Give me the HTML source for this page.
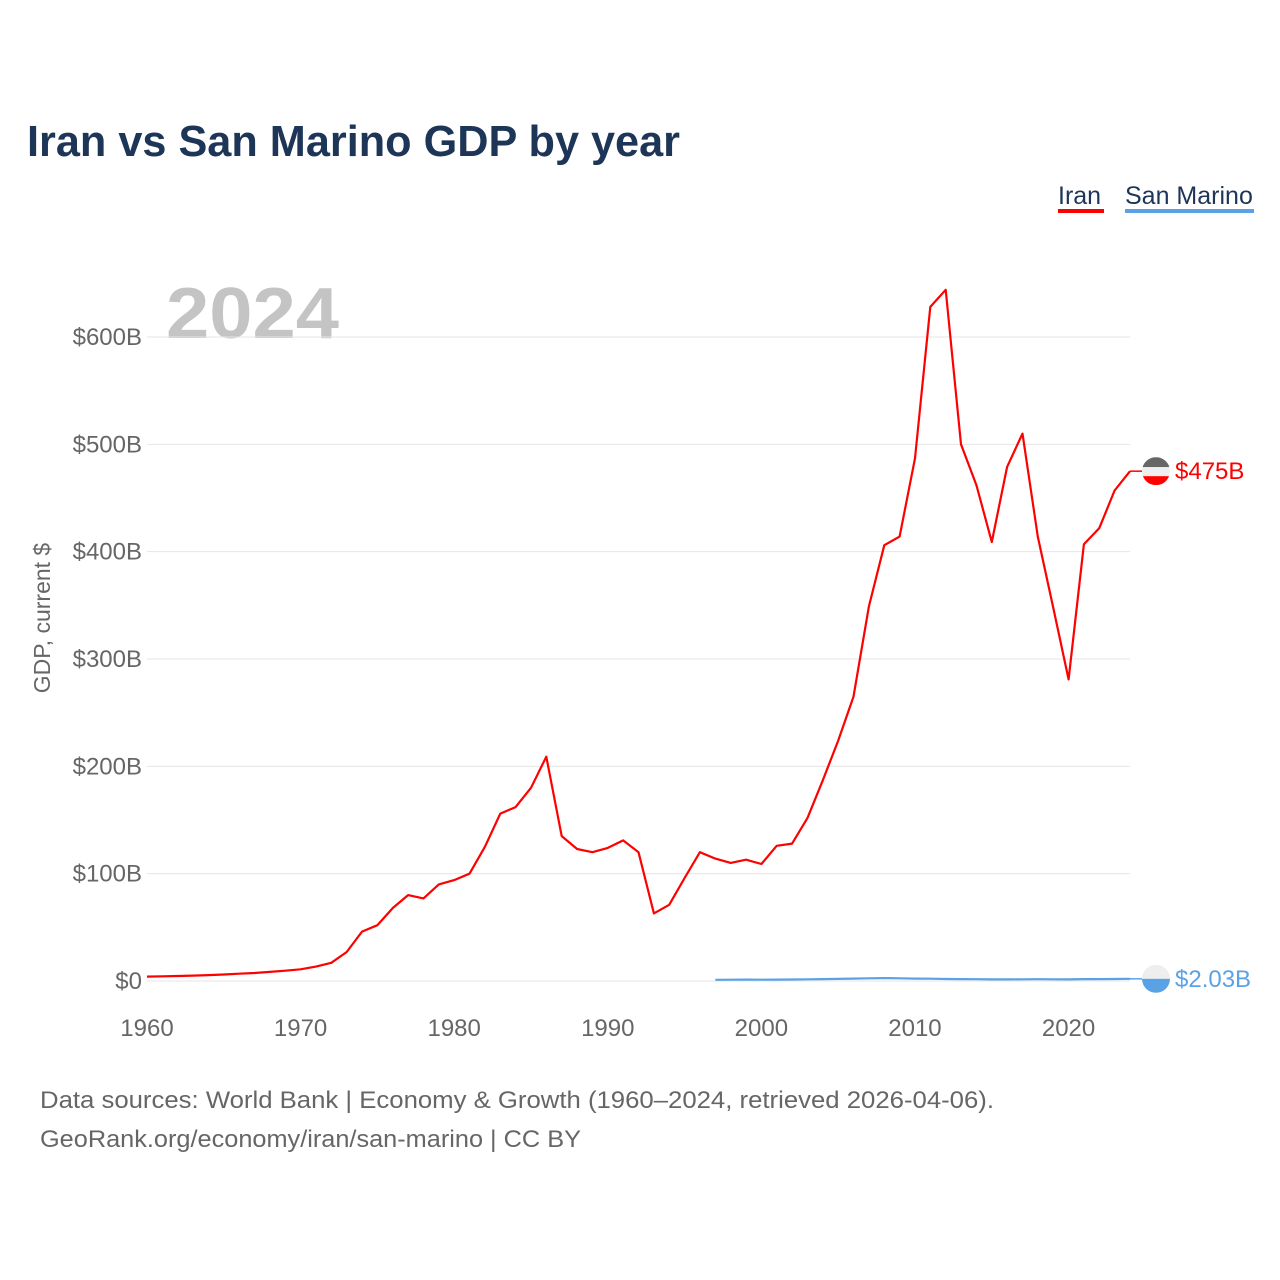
<!DOCTYPE html>
<html><head><meta charset="utf-8">
<style>
html,body{margin:0;padding:0;background:#fff;}
body{width:1280px;height:1280px;position:relative;overflow:hidden;font-family:"Liberation Sans",sans-serif;}
</style></head>
<body>
<svg id="chart" width="1280" height="1280" xmlns="http://www.w3.org/2000/svg" style="position:absolute;left:0;top:0">
<text x="27" y="156" font-size="44" font-weight="bold" fill="#1d3557" textLength="653" lengthAdjust="spacingAndGlyphs">Iran vs San Marino GDP by year</text>
<g>
<text x="1058" y="204" font-size="25" fill="#1d3557">Iran</text>
<rect x="1058" y="209" width="46" height="4" fill="#ff0000"/>
<text x="1125" y="204" font-size="25" fill="#1d3557">San Marino</text>
<rect x="1125" y="209" width="129" height="4" fill="#5aa2e6"/>
</g>
<text x="166" y="338" font-size="72" font-weight="bold" fill="#c4c4c4" textLength="173" lengthAdjust="spacingAndGlyphs">2024</text>
<text transform="translate(50,618) rotate(-90)" text-anchor="middle" font-size="23" fill="#666">GDP, current $</text>
<g id="grid"></g><g id="ylabels"></g><g id="xlabels"></g><g id="series"></g>
<text x="40" y="1108" font-size="24" fill="#666" textLength="954" lengthAdjust="spacingAndGlyphs">Data sources: World Bank | Economy &amp; Growth (1960–2024, retrieved 2026-04-06).</text>
<text x="40" y="1147" font-size="24" fill="#666" textLength="541" lengthAdjust="spacingAndGlyphs">GeoRank.org/economy/iran/san-marino | CC BY</text>
</svg>
<script>
const yTicks=[0,100,200,300,400,500,600];
const yTickLabels=["$0","$100B","$200B","$300B","$400B","$500B","$600B"];
const xTicks=[1960,1970,1980,1990,2000,2010,2020];
const iranYears=[1960,1961,1962,1963,1964,1965,1966,1967,1968,1969,1970,1971,1972,1973,1974,1975,1976,1977,1978,1979,1980,1981,1982,1983,1984,1985,1986,1987,1988,1989,1990,1991,1992,1993,1994,1995,1996,1997,1998,1999,2000,2001,2002,2003,2004,2005,2006,2007,2008,2009,2010,2011,2012,2013,2014,2015,2016,2017,2018,2019,2020,2021,2022,2023,2024];
const iranValues=[4.1,4.4,4.7,5,5.5,6.1,6.8,7.5,8.5,9.6,10.9,13.4,17,27,46,52,68,80,77,90,94,100,125,156,162,180,209,135,123,120,124,131,120,63,71,96,120,114,110,113,109,126,128,152,187,224,265,349,406,414,487,628,644,500,462,409,479,510,414,348,281,407,422,457,475];
const smYears=[1997,1998,1999,2000,2001,2002,2003,2004,2005,2006,2007,2008,2009,2010,2011,2012,2013,2014,2015,2016,2017,2018,2019,2020,2021,2022,2023,2024];
const smValues=[1.1,1.2,1.3,1.2,1.3,1.4,1.6,1.8,2.0,2.2,2.5,2.7,2.5,2.2,2.1,1.9,1.8,1.7,1.5,1.5,1.6,1.7,1.6,1.5,1.8,1.8,1.9,2.03];
const x=v=>147+(v-1960)*(1130-147)/64;
const y=v=>981-v*(981-337)/600;
const NS="http://www.w3.org/2000/svg";
function mk(t,a,p){const e=document.createElementNS(NS,t);for(const k in a)e.setAttribute(k,a[k]);p.appendChild(e);return e;}
const grid=document.getElementById('grid'),yl=document.getElementById('ylabels'),xl=document.getElementById('xlabels'),ser=document.getElementById('series');
yTicks.forEach((t,i)=>{
 const g=mk('line',{x1:147,x2:1130,y1:y(t),y2:y(t),stroke:'#e6e6e6','stroke-width':1},grid);
 
 
 const l=mk('text',{x:142,y:y(t)+8,'text-anchor':'end','font-size':24,fill:'#666'},yl);
 l.textContent=yTickLabels[i];
 
 
});
xTicks.forEach(t=>{
 const l=mk('text',{x:x(t),y:1036,'text-anchor':'middle','font-size':24,fill:'#666'},xl);
 l.textContent=t;
 
 
});
function line(xs,vs,color,w,name){
 const d=xs.map((yr,i)=>(i?'L':'M')+x(yr).toFixed(1)+','+y(vs[i]).toFixed(1)).join('');
 const p=mk('path',{d:d,fill:'none',stroke:color,'stroke-width':w,'stroke-linejoin':'round'},ser);
 
 
}
line(iranYears,iranValues,'#ff0000',2.2,'iran-line');
line(smYears,smValues,'#5aa2e6',2.2,'san-marino-line');
function endLabel(v,color,text,name,flag){
 const yy=y(v);
 const c=mk('line',{x1:1130,x2:1142,y1:yy,y2:yy,stroke:color,'stroke-width':1.5},ser);
 
 
 const g=mk('g',{},ser);
 
 
 mk('clipPath',{id:name+'clip'},g).appendChild(document.createElementNS(NS,'circle'));
 const cp=g.querySelector('clipPath circle');cp.setAttribute('cx',1156);cp.setAttribute('cy',yy);cp.setAttribute('r',14);
 const inner=mk('g',{'clip-path':'url(#'+name+'clip)'},g);
 flag.forEach((f,i)=>mk('rect',{x:1142,y:yy-14+f[0],width:28,height:f[1],fill:f[2]},inner));
 const t=mk('text',{x:1175,y:yy+8,'font-size':24,fill:color},ser);
 t.textContent=text;
 
 
}
endLabel(iranValues[iranValues.length-1],'#ff0000','$475B','iran',[[0,10,'#666'],[10,9,'#eee'],[19,9,'#ff0000']]);
endLabel(smValues[smValues.length-1],'#5aa2e6','$2.03B','san-marino',[[0,14,'#eee'],[14,14,'#5aa2e6']]);
</script>
</body></html>
